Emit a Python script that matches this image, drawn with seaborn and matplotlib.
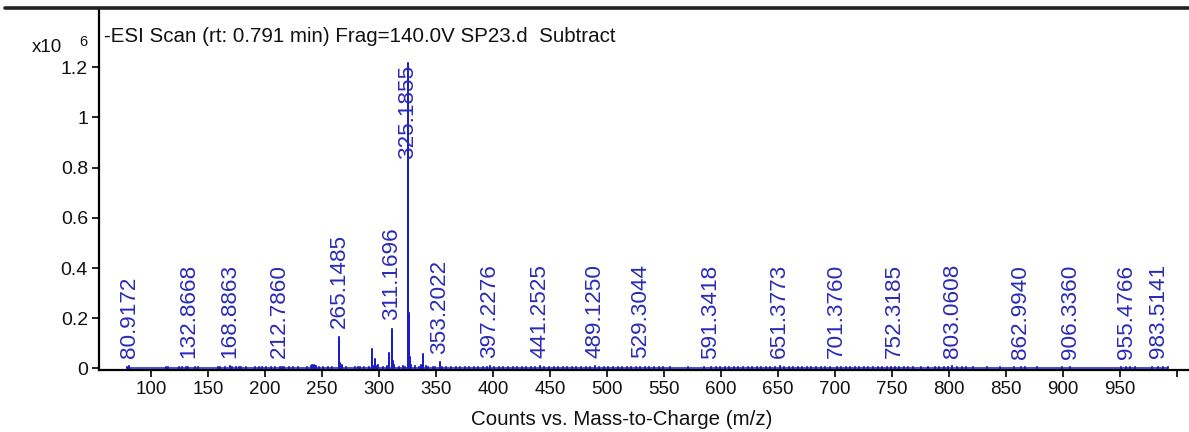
import numpy as np
import pandas as pd
import matplotlib
matplotlib.use("Agg")
import matplotlib.pyplot as plt
from matplotlib.lines import Line2D
import seaborn as sns

# ---------------- data (intensities in units of 1e6 counts) ----------------
peak_mz = [80.9172, 132.8668, 168.8863, 212.7860, 265.1485, 266.15, 293.6, 296.2,
           309.1, 311.1696, 312.17, 325.1855, 326.19, 327.19, 338.9, 353.2022,
           397.2276, 441.2525, 489.1250, 529.3044, 591.3418, 651.3773, 701.3760,
           752.3185, 803.0608, 862.9940, 906.3360, 955.4766, 983.5141]
peak_int = [0.010, 0.007, 0.008, 0.007, 0.127, 0.022, 0.076, 0.036,
            0.060, 0.158, 0.030, 1.215, 0.222, 0.045, 0.058, 0.025,
            0.010, 0.008, 0.008, 0.007, 0.006, 0.008, 0.007,
            0.007, 0.008, 0.006, 0.005, 0.006, 0.007]

label_text = ["80.9172", "132.8668", "168.8863", "212.7860", "265.1485", "311.1696",
              "325.1855", "353.2022", "397.2276", "441.2525", "489.1250", "529.3044",
              "591.3418", "651.3773", "701.3760", "752.3185", "803.0608", "862.9940",
              "906.3360", "955.4766", "983.5141"]

noise_mz = [79.0, 82.9, 112.9, 115.0, 119.0, 124.9, 127.0, 131.0, 134.9, 138.9,
            141.0, 159.0, 160.9, 163.0, 165.0, 171.0, 174.9, 176.9, 179.0, 183.0,
            187.0, 191.0, 194.9, 197.0, 201.0, 205.0, 209.0, 214.9, 217.0, 221.0,
            225.0, 229.1, 237.1, 240.1, 241.1, 243.1, 244.1, 245.1, 247.1, 251.1,
            255.1, 259.1, 267.2, 271.1, 279.1, 281.2, 283.2, 287.1, 291.2, 295.2,
            297.2, 299.2, 303.2, 307.2, 313.2, 317.2, 321.2, 323.2, 328.2, 331.2,
            335.2, 337.2, 341.2, 343.2, 347.2, 349.2, 355.2, 359.2, 363.2, 367.2,
            371.2, 375.2, 379.2, 383.2, 387.2, 391.2, 395.2, 401.2, 405.2, 409.2,
            413.2, 417.2, 421.2, 425.2, 429.2, 433.2, 437.2, 445.2, 449.2, 453.2,
            457.2, 461.2, 465.2, 469.2, 473.2, 477.2, 481.2, 485.2, 493.2, 497.2,
            501.3, 505.3, 509.3, 513.3, 517.3, 521.3, 525.3, 533.3, 537.3, 541.3,
            545.3, 549.3, 555.3, 563.3, 571.3, 579.3, 585.3, 595.3, 599.3, 603.3,
            607.3, 611.3, 615.3, 619.3, 623.3, 627.3, 631.3, 635.3, 639.3, 643.3,
            647.3, 655.4, 659.4, 663.4, 667.4, 671.4, 675.4, 679.4, 683.4, 687.4,
            691.4, 695.4, 705.4, 709.4, 713.4, 717.4, 721.4, 725.4, 729.4, 733.4,
            737.4, 741.4, 745.4, 749.4, 756.4, 760.4, 764.4, 768.4, 775.4, 781.4,
            787.4, 791.4, 795.4, 799.4, 807.1, 811.1, 815.1, 821.1, 827.1, 833.1,
            839.1, 845.1, 851.1, 857.1, 866.9, 871.0, 877.0, 883.0, 891.0, 899.0,
            911.0, 917.0, 951.0, 958.5, 963.0, 967.5, 978.0, 987.5, 992.0]
noise_int = [0.004, 0.003, 0.004, 0.005, 0.003, 0.006, 0.004, 0.005, 0.003, 0.004,
             0.005, 0.004, 0.006, 0.003, 0.005, 0.004, 0.006, 0.005, 0.004, 0.005,
             0.003, 0.006, 0.004, 0.005, 0.004, 0.006, 0.005, 0.004, 0.005, 0.006,
             0.004, 0.005, 0.006, 0.009, 0.012, 0.014, 0.010, 0.008, 0.006, 0.005,
             0.004, 0.006, 0.012, 0.005, 0.004, 0.006, 0.005, 0.004, 0.006, 0.010,
             0.008, 0.012, 0.006, 0.009, 0.014, 0.007, 0.010, 0.006, 0.012, 0.009,
             0.006, 0.014, 0.008, 0.007, 0.006, 0.005, 0.007, 0.006, 0.005, 0.006,
             0.005, 0.004, 0.006, 0.005, 0.006, 0.004, 0.005, 0.006, 0.005, 0.007,
             0.005, 0.006, 0.007, 0.005, 0.006, 0.005, 0.007, 0.006, 0.005, 0.007,
             0.006, 0.005, 0.006, 0.007, 0.006, 0.005, 0.007, 0.006, 0.005, 0.006,
             0.007, 0.005, 0.006, 0.005, 0.006, 0.005, 0.006, 0.005, 0.004, 0.005,
             0.004, 0.005, 0.004, 0.003, 0.004, 0.003, 0.004, 0.004, 0.005, 0.004,
             0.005, 0.006, 0.005, 0.006, 0.005, 0.006, 0.007, 0.006, 0.005, 0.006,
             0.005, 0.006, 0.005, 0.007, 0.006, 0.005, 0.006, 0.007, 0.006, 0.005,
             0.006, 0.005, 0.006, 0.005, 0.006, 0.007, 0.005, 0.006, 0.005, 0.006,
             0.007, 0.006, 0.005, 0.006, 0.005, 0.006, 0.005, 0.004, 0.005, 0.004,
             0.005, 0.004, 0.005, 0.006, 0.005, 0.004, 0.005, 0.004, 0.003, 0.004,
             0.003, 0.004, 0.003, 0.004, 0.004, 0.003, 0.004, 0.003, 0.003, 0.004,
             0.003, 0.003, 0.004, 0.005, 0.004, 0.003, 0.004, 0.005, 0.004]

x_ticks = [100, 150, 200, 250, 300, 350, 400, 450, 500, 550, 600, 650, 700,
           750, 800, 850, 900, 950, 1000]
x_tick_labels = ["100", "150", "200", "250", "300", "350", "400", "450", "500",
                 "550", "600", "650", "700", "750", "800", "850", "900", "950", ""]
y_ticks = [0, 0.2, 0.4, 0.6, 0.8, 1.0, 1.2]
y_tick_labels = ["0", "0.2", "0.4", "0.6", "0.8", "1", "1.2"]

title_text = "-ESI Scan (rt: 0.791 min) Frag=140.0V SP23.d  Subtract"
x_label = "Counts vs. Mass-to-Charge (m/z)"

# ---------------- build stick profile ----------------
all_mz = np.array(peak_mz + noise_mz, dtype=float)
all_int = np.array(peak_int + noise_int, dtype=float)
order = np.argsort(all_mz)
all_mz, all_int = all_mz[order], all_int[order]
xs, ys = [], []
for m, h in zip(all_mz, all_int):
    xs += [m, m, m]
    ys += [0.0, h, 0.0]
df = pd.DataFrame({"mz": xs, "counts": ys})

# ---------------- figure ----------------
sns.set_theme(style="ticks")
plt.rcParams["font.family"] = ["Liberation Sans", "DejaVu Sans"]

W, H = 1189, 432
fig = plt.figure(figsize=(W / 100, H / 100), dpi=100)
ax = fig.add_axes([99 / W, 1 - 370 / H, (W - 99) / W, (370 - 9) / H])

blue = "#1E1EC8"
sns.lineplot(data=df, x="mz", y="counts", sort=False, estimator=None,
             color=blue, linewidth=1.1, ax=ax)

ax.set_xlim(54.4, 1010.6)
ax.set_ylim(-0.006, 1.432)
ax.set_xticks(x_ticks)
ax.set_xticklabels(x_tick_labels, fontsize=13.5)
ax.set_yticks(y_ticks)
ax.set_yticklabels(y_tick_labels, fontsize=14)
ax.tick_params(axis="both", direction="out", length=5, width=1.2, color="black",
               labelcolor="#111111", pad=3)
for s in ["top", "right"]:
    ax.spines[s].set_visible(False)
for s in ["left", "bottom"]:
    ax.spines[s].set_linewidth(1.6)
    ax.spines[s].set_color("black")
ax.set_xlabel(x_label, fontsize=14.8, color="#111111")
ax.xaxis.set_label_coords((622 - 99) / (W - 99), -0.112)
ax.set_ylabel("")

# peak labels
lookup = dict(zip(peak_mz, peak_int))
for t in label_text:
    m = float(t)
    h = lookup.get(m, 0.006)
    base = min(h, 0.80)
    ax.annotate(t, xy=(m, base), xytext=(0, 6), textcoords="offset points",
                rotation=90, ha="center", va="bottom", fontsize=16.2,
                color="#2B2BB5")

# title inside plot
fig.text(104 / W, 1 - 36 / H, title_text, fontsize=14.8, color="#111111",
         ha="left", va="center")
# scale factor
fig.text(32 / W, 1 - 48 / H, "x10", fontsize=13.5, color="#111111", ha="left", va="center")
fig.text(79 / W, 1 - 42 / H, "6", fontsize=10.5, color="#111111", ha="left", va="center")

# thick top rule
fig.add_artist(Line2D([5 / W, 1.0], [1 - 8 / H, 1 - 8 / H], transform=fig.transFigure,
                      color="#222222", linewidth=2.6))

fig.savefig("out.png", dpi=100)
